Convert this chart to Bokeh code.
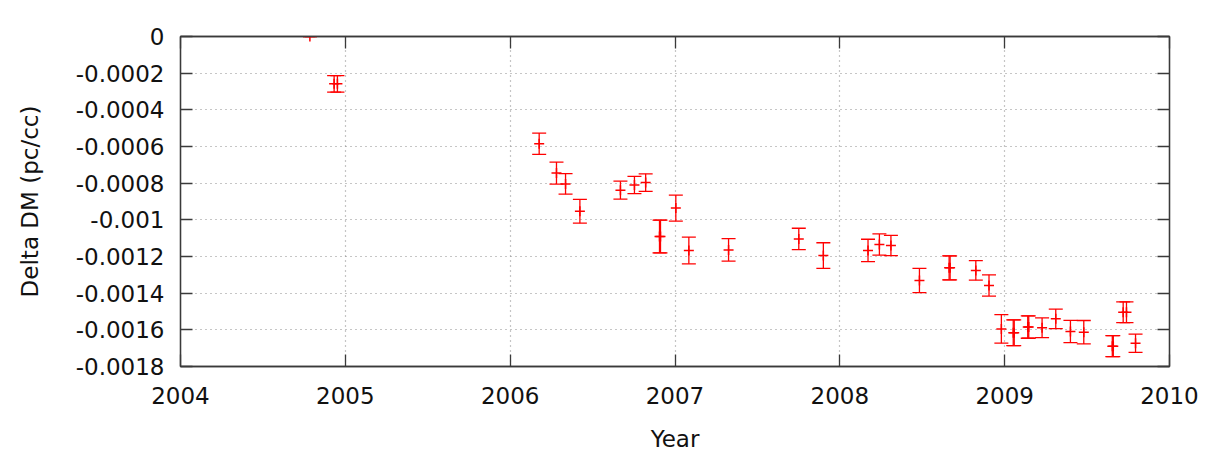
import numpy as np
from bokeh.plotting import figure
from bokeh.models import (ColumnDataSource, Whisker, TeeHead, LinearAxis,
                          FixedTicker, CustomLabelingPolicy)
from bokeh.embed import file_html
from bokeh.resources import INLINE

# ---- data ----
year = [2004.785, 2004.932, 2004.952, 2006.176, 2006.281, 2006.336, 2006.423,
        2006.669, 2006.754, 2006.822, 2006.906, 2006.912, 2007.005, 2007.084,
        2007.325, 2007.751, 2007.900, 2008.171, 2008.240, 2008.310, 2008.483,
        2008.663, 2008.669, 2008.825, 2008.905, 2008.980, 2009.052, 2009.058,
        2009.140, 2009.146, 2009.227, 2009.310, 2009.399, 2009.480, 2009.653,
        2009.659, 2009.719, 2009.739, 2009.794]
delta_dm = [0.0, -0.000258, -0.000258, -0.000585, -0.000745, -0.000804, -0.000953,
            -0.000838, -0.000810, -0.000797, -0.001091, -0.001091, -0.000936, -0.001167,
            -0.001164, -0.001104, -0.001195, -0.001167, -0.001135, -0.001140, -0.001331,
            -0.001262, -0.001262, -0.001276, -0.001358, -0.001595, -0.001616, -0.001616,
            -0.001585, -0.001585, -0.001589, -0.001540, -0.001609, -0.001613, -0.001689,
            -0.001689, -0.001504, -0.001504, -0.001673]
dm_err = [0.0, 0.000045, 0.000045, 0.000058, 0.000060, 0.000056, 0.000065,
          0.000049, 0.000047, 0.000048, 0.000089, 0.000089, 0.000071, 0.000073,
          0.000061, 0.000058, 0.000070, 0.000061, 0.000058, 0.000055, 0.000066,
          0.000065, 0.000065, 0.000053, 0.000058, 0.000078, 0.000070, 0.000070,
          0.000061, 0.000061, 0.000054, 0.000053, 0.000061, 0.000064, 0.000057,
          0.000057, 0.000057, 0.000057, 0.000050]

x_ticks = [2004, 2005, 2006, 2007, 2008, 2009, 2010]
x_tick_labels = ["2004", "2005", "2006", "2007", "2008", "2009", "2010"]
y_ticks = [0.0, -0.0002, -0.0004, -0.0006, -0.0008, -0.0010, -0.0012,
           -0.0014, -0.0016, -0.0018]
y_tick_labels = ["0", "-0.0002", "-0.0004", "-0.0006", "-0.0008", "-0.001",
                 "-0.0012", "-0.0014", "-0.0016", "-0.0018"]

y_arr = np.array(delta_dm)
e_arr = np.array(dm_err)
src = ColumnDataSource(dict(x=year, y=delta_dm,
                            upper=(y_arr + e_arr).tolist(),
                            lower=(y_arr - e_arr).tolist()))

FONT = "DejaVu Sans"
FS = "23px"
BORDER = "#3a3a3a"

p = figure(frame_width=989, frame_height=330,
           x_range=(2004, 2010), y_range=(-0.0018, 0),
           min_border_left=180, min_border_right=28,
           min_border_top=36, min_border_bottom=82,
           output_backend="svg", toolbar_location=None,
           background_fill_color="white", border_fill_color="white")
p.outline_line_color = BORDER
p.outline_line_width = 1.3

xt = FixedTicker(ticks=x_ticks)
yt = FixedTicker(ticks=y_ticks)

for g, t in ((p.xgrid[0], xt), (p.ygrid[0], yt)):
    g.ticker = t
    g.grid_line_color = "#8c8c8c"
    g.grid_line_dash = "1 4"
    g.grid_line_width = 1.2


def style_axis(ax, ticker, labels, show_labels):
    ax.ticker = ticker
    ax.axis_line_color = BORDER
    ax.axis_line_width = 1.3
    ax.major_tick_line_color = BORDER
    ax.major_tick_line_width = 1.3
    ax.major_tick_in = 12
    ax.major_tick_out = 0
    ax.minor_tick_line_color = None
    ax.major_label_text_font = FONT
    ax.major_label_text_color = "#111111"
    ax.major_label_text_font_size = FS
    if show_labels:
        ax.major_label_overrides = labels
    else:
        ax.major_label_policy = CustomLabelingPolicy(code="if (false) { yield 0 }")
        ax.major_label_standoff = 0


xaxis = p.xaxis[0]
yaxis = p.yaxis[0]
style_axis(xaxis, xt, {t: l for t, l in zip(x_ticks, x_tick_labels)}, True)
style_axis(yaxis, yt, {t: l for t, l in zip(y_ticks, y_tick_labels)}, True)
xaxis.major_label_standoff = 20
yaxis.major_label_standoff = 16

xaxis.axis_label = "Year"
yaxis.axis_label = "Delta DM (pc/cc)"
for ax in (xaxis, yaxis):
    ax.axis_label_text_font = FONT
    ax.axis_label_text_font_size = FS
    ax.axis_label_text_font_style = "normal"
    ax.axis_label_text_color = "#111111"
xaxis.axis_label_standoff = 19
yaxis.axis_label_standoff = 30

top_ax = LinearAxis()
right_ax = LinearAxis()
style_axis(top_ax, xt, None, False)
style_axis(right_ax, yt, None, False)
p.add_layout(top_ax, "above")
p.add_layout(right_ax, "right")

whisk = Whisker(base="x", upper="upper", lower="lower", source=src,
                line_color="red", line_width=1.3,
                upper_head=TeeHead(size=14, line_color="red", line_width=1.3),
                lower_head=TeeHead(size=14, line_color="red", line_width=1.3))
p.add_layout(whisk)

p.scatter("x", "y", source=src, marker="cross", size=10,
          line_color="red", line_width=1.5)

open("out.html", "w").write(file_html(p, INLINE))
